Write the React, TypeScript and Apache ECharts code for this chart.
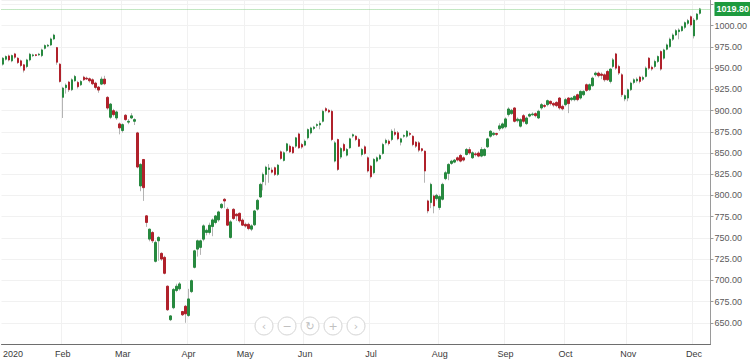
import React, { useEffect, useRef } from "react";
import * as echarts from "echarts";

// Daily OHLC values (Jan 2020 – Dec 2020)
const opens = [
  954.7, 960.5, 964.4, 958.6, 966.8, 961.7, 958.6, 953.9, 951.9, 959.7,
  964.7, 965.8, 965.6, 964.8, 973.4, 976.0, 977.3, 984.4, 974.2, 954.7,
  915.6, 927.0, 933.6, 924.6, 935.1, 933.2, 930.4, 939.4, 938.2, 937.5,
  936.3, 932.4, 927.7, 931.2, 937.1, 915.6, 892.1, 899.9, 891.3, 884.3,
  876.5, 894.5, 886.4, 891.3, 887.4, 873.7, 811.2, 842.4, 776.0, 748.6,
  756.4, 722.4, 746.6, 731.8, 727.1, 693.1, 653.6, 667.7, 688.0, 690.0,
  663.3, 669.5, 658.6, 686.7, 715.3, 736.8, 738.8, 748.5, 756.4, 756.4,
  763.4, 768.1, 771.2, 785.7, 795.5, 783.7, 750.5, 783.7, 778.0, 779.0,
  771.0, 766.0, 766.0, 760.3, 765.4, 783.8, 798.2, 816.2, 824.8, 830.7,
  830.0, 832.7, 824.8, 851.4, 841.3, 853.0, 858.0, 856.9, 858.1, 872.5,
  860.0, 859.3, 867.9, 873.7, 879.0, 882.5, 883.0, 887.4, 902.3, 900.3,
  899.1, 840.5, 865.9, 845.2, 860.0, 847.5, 856.1, 870.0, 869.8, 866.0,
  848.3, 857.3, 844.4, 834.6, 826.8, 840.5, 843.2, 849.5, 862.0, 864.0,
  866.0, 874.5, 873.8, 862.8, 869.8, 869.8, 873.0, 869.8, 862.8, 862.0,
  855.0, 852.2, 793.6, 791.6, 799.4, 796.3, 785.8, 795.5, 819.8, 826.0,
  837.8, 839.3, 844.4, 847.2, 844.4, 848.3, 854.0, 844.4, 849.0, 850.0,
  846.4, 847.2, 857.3, 869.8, 871.6, 873.0, 878.5, 879.6, 880.8, 895.3,
  896.4, 903.1, 888.0, 881.6, 894.0, 884.7, 893.5, 895.0, 896.4, 891.3,
  903.1, 906.0, 907.0, 910.9, 908.5, 909.7, 914.8, 905.0, 907.0, 914.8,
  912.9, 912.9, 918.7, 914.8, 918.7, 930.5, 924.6, 929.3, 942.2, 944.2,
  943.0, 942.2, 946.1, 934.4, 952.0, 966.8, 952.0, 942.2, 913.7, 914.8,
  924.6, 933.2, 935.0, 939.5, 937.0, 940.3, 961.8, 951.0, 952.0, 957.9,
  969.6, 961.8, 972.3, 975.4, 984.1, 989.1, 993.0, 994.2, 998.1, 1002.8,
  1010.6, 988.0, 1007.5, 1014.6,
];

const closes = [
  961.7, 963.7, 959.7, 964.8, 962.9, 956.6, 953.1, 947.6, 959.7, 966.4,
  965.6, 964.9, 966.5, 971.5, 976.6, 977.0, 984.4, 989.0, 957.0, 934.3,
  926.5, 930.0, 924.6, 936.3, 940.2, 928.1, 934.3, 936.3, 937.2, 935.1,
  931.6, 927.3, 924.2, 937.1, 931.6, 903.0, 907.7, 895.2, 898.4, 879.6,
  883.5, 889.4, 887.4, 893.8, 889.4, 833.5, 836.6, 809.2, 768.2, 760.3,
  746.6, 744.7, 750.6, 725.1, 708.3, 665.3, 658.1, 689.3, 693.1, 695.8,
  659.4, 660.5, 678.1, 699.6, 734.8, 746.6, 746.6, 764.2, 759.0, 764.9,
  771.2, 775.9, 780.6, 789.6, 793.5, 765.0, 768.9, 772.8, 776.0, 770.0,
  765.0, 764.0, 761.0, 764.2, 781.8, 794.3, 813.1, 824.8, 833.4, 832.4,
  827.5, 824.8, 835.8, 843.6, 850.3, 860.8, 851.4, 850.3, 867.9, 856.1,
  857.0, 864.0, 877.6, 879.6, 880.5, 883.5, 885.0, 899.1, 900.0, 898.4,
  865.9, 862.0, 830.7, 855.3, 853.0, 854.2, 866.7, 871.6, 866.0, 858.0,
  854.2, 849.5, 828.8, 822.1, 842.5, 844.4, 847.2, 860.0, 865.0, 861.2,
  875.7, 872.0, 866.7, 866.7, 870.6, 875.7, 872.0, 860.0, 858.1, 853.4,
  853.0, 828.8, 781.8, 813.1, 787.7, 800.2, 798.7, 813.1, 826.8, 836.6,
  840.5, 841.7, 841.7, 840.5, 841.7, 854.2, 850.0, 850.3, 848.0, 846.4,
  854.2, 854.2, 866.7, 875.7, 873.4, 872.0, 882.0, 884.3, 890.2, 901.9,
  900.4, 887.4, 890.0, 889.4, 887.4, 891.3, 895.5, 896.0, 894.0, 899.2,
  907.0, 905.0, 911.7, 908.2, 906.5, 905.8, 903.1, 902.0, 912.9, 908.2,
  914.8, 916.8, 912.9, 922.6, 922.6, 923.8, 930.5, 938.3, 944.2, 941.1,
  941.5, 936.3, 936.3, 948.9, 959.8, 950.0, 944.2, 918.7, 917.6, 924.6,
  932.4, 936.3, 937.0, 934.4, 939.0, 950.0, 950.0, 949.0, 957.9, 963.7,
  948.9, 971.5, 977.4, 984.1, 989.1, 994.2, 995.0, 998.9, 1003.6, 1006.0,
  1000.9, 1006.7, 1013.8, 1019.8,
];

const lows = [
  953, 959, 958, 957, 961, 955, 951, 944.9, 950, 958,
  963, 964, 964.5, 963, 972, 975, 976, 983, 954, 933,
  891.3, 920, 922, 923, 934, 926, 929, 935, 936, 933,
  930, 925, 921, 930, 930, 901, 890, 893, 889, 872,
  874, 888, 884, 890, 883, 832, 805, 793.6, 763, 746,
  744, 721, 723, 723, 707, 664, 652, 666, 686, 688,
  658, 650, 657, 685, 714, 728, 730, 746, 753, 754,
  752, 766, 769, 784, 785, 764, 749, 771, 770, 768,
  764, 762, 759, 758, 764, 782, 797, 806, 812, 815,
  826, 823, 823, 842, 840, 851, 850, 849, 856, 855,
  855, 858, 866, 872, 877, 880, 878, 886, 898, 897,
  864, 839, 829, 843, 851, 846, 855, 868, 864, 857,
  846, 848, 827, 820, 825, 839, 842, 848, 860, 859,
  864, 870, 865, 859, 868, 868, 870, 858, 856, 851,
  851, 815, 779, 785, 779, 794, 783, 794, 818, 818,
  836, 838, 840, 839, 840, 847, 848, 843, 846, 845,
  845, 846, 856, 868, 870, 870, 876, 878, 879, 893,
  895, 886, 886, 880, 885, 883, 892, 894, 892, 890,
  901, 903, 905, 906, 904, 904, 901, 900, 905, 897,
  911, 911, 911, 913, 917, 922, 923, 928, 940, 939,
  937, 934, 935, 932, 950, 948, 942, 916, 911, 911,
  923, 931, 933, 932, 935, 939, 948, 947, 950, 956,
  947, 960, 971, 974, 982, 988, 984, 993, 996, 1001,
  999, 985, 1006, 1013,
];

const highs = [
  963, 965, 966, 966, 968, 963, 960, 955, 961, 968,
  967, 966.5, 968, 973, 978, 978.5, 986, 990.5, 975, 956,
  928, 932, 935, 938, 942, 935, 936, 941, 940, 939,
  938, 934, 929, 940, 941, 917, 909, 902, 900, 886,
  885, 896, 890, 897, 891, 875, 838, 843, 777, 761,
  758, 747, 752, 733, 729, 694, 659, 691, 696, 698,
  664, 671, 690, 701, 736, 748, 748, 766, 761, 768,
  773, 777, 782, 791, 797, 786, 771, 785, 779, 780,
  773, 768, 768, 766, 783, 796, 815, 827, 835, 837,
  833, 834, 837, 853, 852, 862, 860, 858, 869, 874,
  862, 866, 879, 881, 882, 885, 888, 901, 904, 902,
  901, 864, 867, 857, 862, 856, 868, 873, 871, 868,
  856, 859, 846, 836, 844, 846, 849, 862, 867, 866,
  878, 879, 876, 868, 872, 877, 875, 871, 864, 864,
  856, 853, 795, 815, 801, 802, 801, 815, 829, 838,
  842, 843, 846, 849, 846, 856, 857, 852, 851, 852,
  857, 856, 868, 877, 875, 874, 885, 886, 892, 904,
  902, 904, 892, 891, 896, 893, 897, 898, 898, 901,
  909, 908, 913, 912, 910, 911, 916, 907, 915, 916,
  916, 918, 920, 924, 924, 932, 932, 940, 946, 946,
  945, 944, 948, 950, 962, 968, 954, 944, 919, 926,
  934, 938, 939, 941, 941, 952, 963, 953, 960, 965,
  971, 973, 979, 986, 991, 996, 997, 1000, 1005, 1008,
  1012, 1009, 1015, 1021,
];

// x-axis labels: month names and the trading-day index where each month starts
const monthLabels = ["2020", "Feb", "Mar", "Apr", "May", "Jun", "Jul", "Aug", "Sep", "Oct", "Nov", "Dec"];
const monthStarts = [0, 20, 40, 62, 81, 101, 123, 146, 168, 188, 209, 231];
const emptyTrailingDays = 3;

const lastPrice = 1019.8;

const yMin = 625;
const yMax = 1030;
const yStep = 25;

const UP = "#27893f";
const DOWN = "#b0212b";
const WICK = "#b4b4b4";

export default function App() {
  const ref = useRef<HTMLDivElement>(null);

  useEffect(() => {
    if (!ref.current) return;
    const chart = echarts.init(ref.current, null, { renderer: "svg" });
    const n = opens.length;
    const cats = Array.from({ length: n + emptyTrailingDays }, (_, i) => String(i));
    const labelAt = new Map<number, string>();
    monthStarts.forEach((idx, k) => labelAt.set(idx, monthLabels[k]));

    const wickData = opens.map((o, i) => [o, closes[i], lows[i], highs[i]]);
    const bodyData = opens.map((o, i) => [
      o,
      closes[i],
      Math.min(o, closes[i]),
      Math.max(o, closes[i]),
    ]);

    const navX = [264, 287, 310, 333, 356];
    const navGlyph = ["‹", "−", "↻", "+", "›"];
    const navY = 326;

    const graphic: any[] = [];
    navX.forEach((cx, k) => {
      graphic.push({
        type: "circle",
        shape: { cx, cy: navY, r: 9 },
        style: { fill: "#ffffff", stroke: "#d4d4d4", lineWidth: 1 },
        z: 100,
      });
      graphic.push({
        type: "text",
        x: cx,
        y: navY,
        style: {
          text: navGlyph[k],
          fill: "#c0c0c0",
          font: "11px 'DejaVu Sans', sans-serif",
          align: "center",
          verticalAlign: "middle",
          textAlign: "center",
          textVerticalAlign: "middle",
        },
        z: 101,
      });
    });

    chart.setOption({
      animation: false,
      backgroundColor: "#ffffff",
      grid: { left: 0, right: 35, top: 0, bottom: 16, containLabel: false },
      xAxis: {
        type: "category",
        data: cats,
        boundaryGap: true,
        axisLine: { show: true, lineStyle: { color: "#6e6e6e", width: 1 } },
        axisTick: { show: false },
        axisLabel: {
          interval: (i: number) => labelAt.has(i),
          formatter: (_v: string, i: number) => labelAt.get(i) ?? "",
          fontSize: 9,
          fontFamily: "'Liberation Sans', Arial, sans-serif",
          color: "#3a3a3a",
          margin: 5,
          alignMinLabel: "left",
        },
        splitLine: {
          show: true,
          interval: (i: number) => labelAt.has(i) && i > 0,
          lineStyle: { color: "#f1f1f1", width: 1 },
        },
      },
      yAxis: {
        type: "value",
        position: "right",
        min: yMin,
        max: yMax,
        interval: yStep,
        axisLine: { show: true, lineStyle: { color: "#9a9a9a", width: 1 } },
        axisTick: { show: true, length: 3, lineStyle: { color: "#9a9a9a" } },
        axisLabel: {
          formatter: (v: number) => v.toFixed(2),
          fontSize: 9,
          fontFamily: "'Liberation Sans', Arial, sans-serif",
          color: "#5a5a5a",
          margin: 4,
          showMinLabel: false,
          showMaxLabel: false,
        },
        splitLine: { show: true, lineStyle: { color: "#f1f1f1", width: 1 } },
      },
      series: [
        {
          type: "candlestick",
          data: wickData,
          barWidth: 1,
          itemStyle: {
            color: WICK,
            color0: WICK,
            borderColor: WICK,
            borderColor0: WICK,
            borderWidth: 1,
          },
          silent: true,
        },
        {
          type: "candlestick",
          data: bodyData,
          barWidth: 2,
          itemStyle: {
            color: UP,
            color0: DOWN,
            borderColor: UP,
            borderColor0: DOWN,
            borderWidth: 1,
          },
          silent: true,
          markLine: {
            silent: true,
            symbol: ["none", "none"],
            animation: false,
            data: [{ yAxis: lastPrice }],
            lineStyle: { color: "#86cf86", type: "dotted", width: 1 },
            label: {
              show: true,
              position: "end",
              distance: 4,
              formatter: lastPrice.toFixed(2),
              backgroundColor: "#1e9a3e",
              color: "#ffffff",
              fontSize: 9,
              fontWeight: "bold",
              fontFamily: "'Liberation Sans', Arial, sans-serif",
              padding: [3, 2, 2, 2],
            },
          },
        },
      ],
      graphic,
    });

    return () => chart.dispose();
  }, []);

  return (
    <div
      ref={ref}
      style={{ position: "fixed", left: 0, top: 0, width: 750, height: 360 }}
    />
  );
}
